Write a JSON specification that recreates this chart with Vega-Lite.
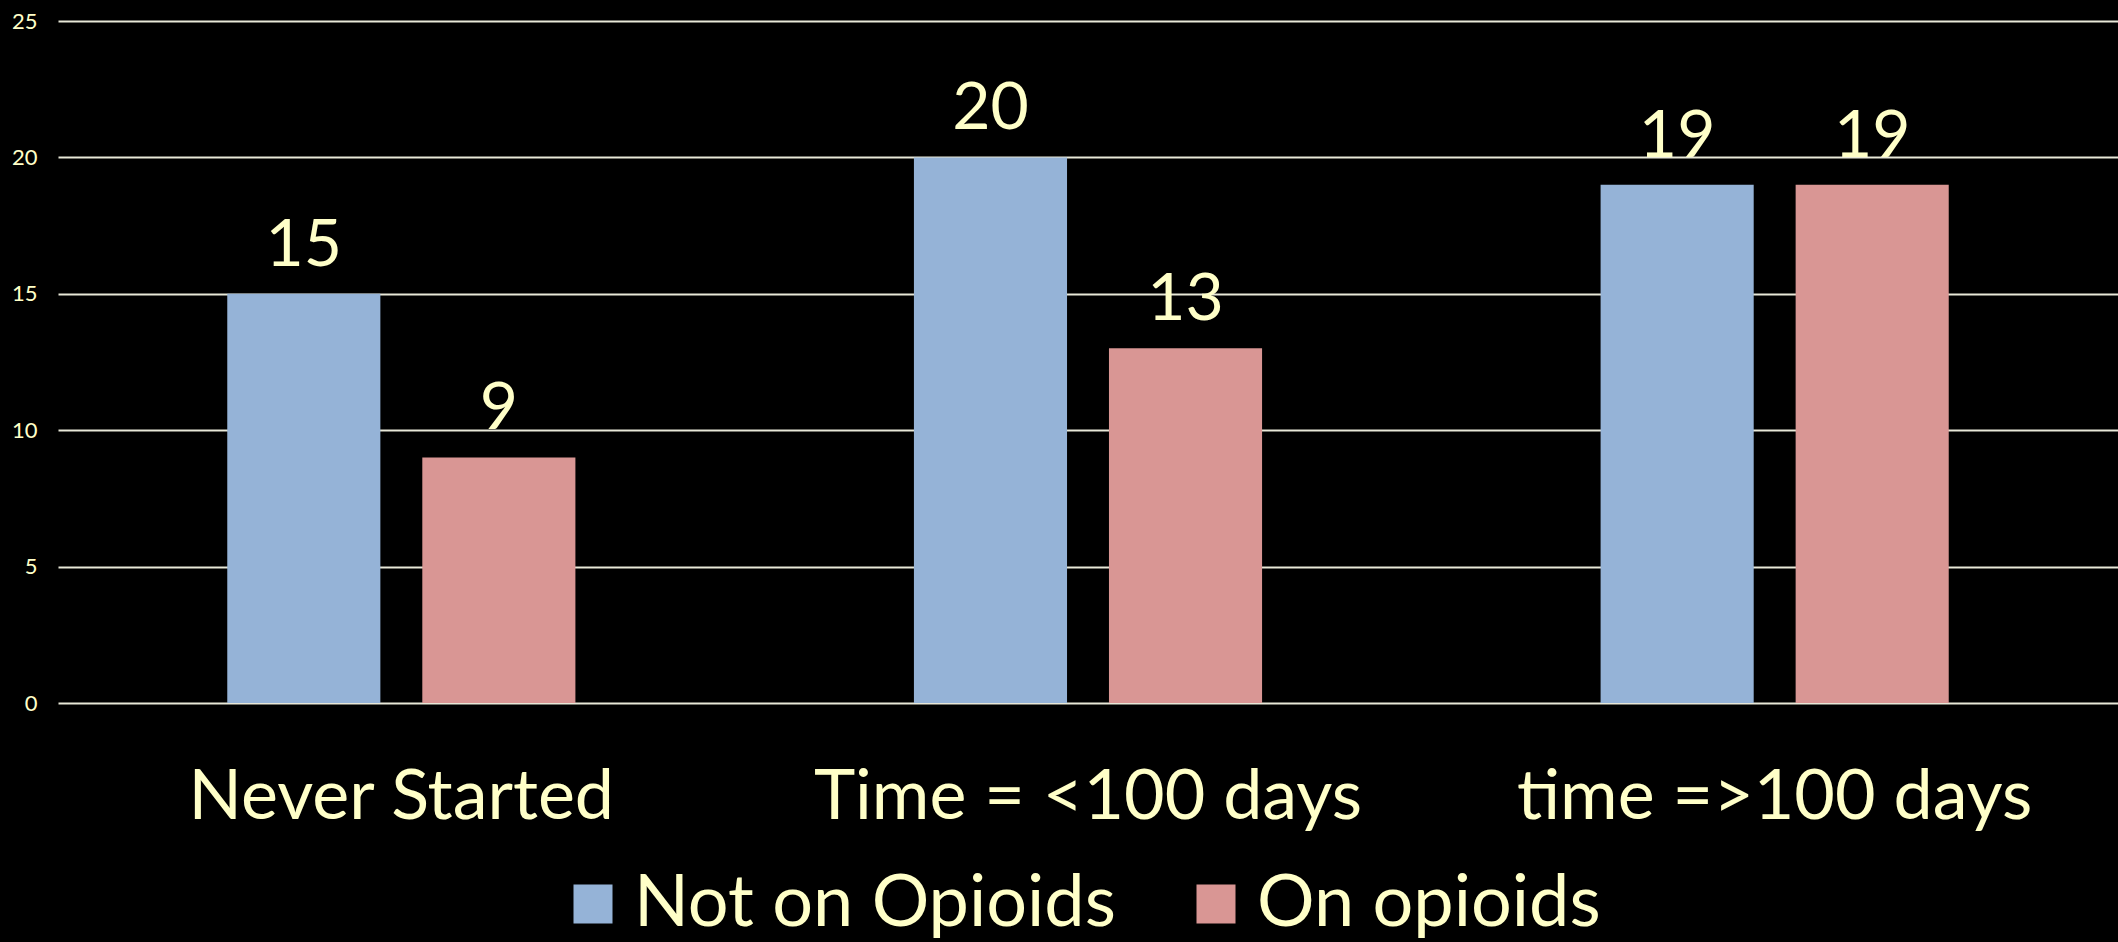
{
  "$schema": "https://vega.github.io/schema/vega-lite/v6.json",
  "width": 2060,
  "height": 682,
  "autosize": {"type": "none"},
  "padding": {"left": 58, "top": 21, "right": 0, "bottom": 239},
  "background": "#000000",
  "data": {
    "values": [
      {"category": "Never Started", "group": "Not on Opioids", "value": 15},
      {"category": "Never Started", "group": "On opioids", "value": 9},
      {"category": "Time = <100 days", "group": "Not on Opioids", "value": 20},
      {"category": "Time = <100 days", "group": "On opioids", "value": 13},
      {"category": "time =>100 days", "group": "Not on Opioids", "value": 19},
      {"category": "time =>100 days", "group": "On opioids", "value": 19}
    ]
  },
  "encoding": {
    "x": {
      "field": "category",
      "type": "nominal",
      "sort": ["Never Started", "Time = <100 days", "time =>100 days"],
      "scale": {"paddingInner": 0.493, "paddingOuter": 0.2465},
      "title": null,
      "axis": {
        "domain": false,
        "ticks": false,
        "tickSize": 0,
        "labelAngle": 0,
        "labelFont": "Lato",
        "labelFontSize": 70,
        "labelColor": "#FFFFC8",
        "labelBaseline": "alphabetic",
        "labelPadding": 115,
        "labelLimit": 0
      }
    },
    "xOffset": {
      "field": "group",
      "type": "nominal",
      "sort": ["Not on Opioids", "On opioids"],
      "scale": {"paddingInner": 0.215, "paddingOuter": 0}
    },
    "y": {
      "field": "value",
      "type": "quantitative",
      "scale": {"domain": [0, 25], "nice": false},
      "title": null,
      "axis": {
        "values": [0, 5, 10, 15, 20, 25],
        "domain": false,
        "ticks": false,
        "tickSize": 0,
        "grid": true,
        "gridColor": "#E8E8D8",
        "gridWidth": 2,
        "labelFont": "Lato",
        "labelFontSize": 22,
        "labelColor": "#FFFFC8",
        "labelPadding": 21
      }
    }
  },
  "layer": [
    {
      "mark": {"type": "bar"},
      "encoding": {
        "color": {
          "field": "group",
          "type": "nominal",
          "sort": ["Not on Opioids", "On opioids"],
          "scale": {"domain": ["Not on Opioids", "On opioids"], "range": ["#95B3D7", "#D99694"]},
          "legend": {
            "title": null,
            "orient": "none",
            "direction": "horizontal",
            "legendX": 499,
            "legendY": 847,
            "padding": 0,
            "symbolType": "square",
            "symbolSize": 1521,
            "symbolStrokeWidth": 0,
            "symbolOpacity": 1,
            "labelFont": "Lato",
            "labelFontSize": 72,
            "labelColor": "#FFFFC8",
            "labelOffset": 5,
            "labelLimit": 0,
            "columnPadding": 64
          }
        }
      }
    },
    {
      "mark": {
        "type": "text",
        "dy": -28,
        "baseline": "alphabetic",
        "font": "Lato",
        "fontSize": 66,
        "color": "#FFFFC8"
      },
      "encoding": {"text": {"field": "value", "type": "quantitative"}}
    }
  ],
  "config": {"view": {"stroke": null}}
}
